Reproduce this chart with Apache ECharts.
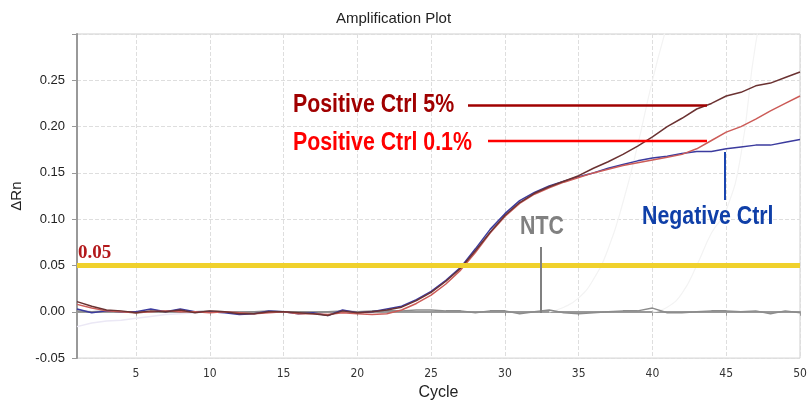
<!DOCTYPE html>
<html>
<head>
<meta charset="utf-8">
<script src="https://cdn.jsdelivr.net/npm/echarts@6/dist/echarts.min.js"></script>
<style>
  html, body { margin: 0; padding: 0; background: #fff; }
  #chart { width: 810px; height: 406px; }
</style>
</head>
<body>
<div id="chart"></div>
<script>
// cycles 1..50 on the x axis
const cycles = []
for (let i = 1; i <= 50; i++) cycles.push(String(i))

const yTicks = [-0.05, 0.30, 0.05] // min, max, step
const threshold = 0.05

// delta Rn per cycle
const pos5 = [0.011, 0.006, 0.002, 0.001, -0.001, 0.001, 0.000, 0.002, -0.001, 0.001,
  0.000, -0.002, -0.002, 0.000, 0.000, -0.001, -0.002, -0.004, 0.001, -0.001,
  0.000, 0.002, 0.005, 0.012, 0.021, 0.033, 0.047, 0.066, 0.086, 0.104,
  0.118, 0.128, 0.135, 0.141, 0.147, 0.155, 0.162, 0.170, 0.179, 0.189,
  0.200, 0.209, 0.219, 0.225, 0.233, 0.237, 0.244, 0.247, 0.253, 0.259]
const pos01 = [0.008, 0.004, 0.001, 0.000, -0.001, 0.000, 0.001, 0.000, 0.000, -0.001,
  0.000, -0.001, -0.002, -0.001, 0.000, -0.002, -0.002, -0.003, -0.001, -0.002,
  -0.003, -0.002, 0.002, 0.009, 0.018, 0.030, 0.045, 0.064, 0.085, 0.103,
  0.117, 0.127, 0.134, 0.140, 0.145, 0.150, 0.154, 0.158, 0.161, 0.164,
  0.167, 0.170, 0.176, 0.185, 0.194, 0.200, 0.208, 0.217, 0.225, 0.233]
const neg = [0.003, -0.001, 0.001, 0.000, 0.000, 0.003, 0.000, 0.003, 0.000, 0.000,
  -0.001, -0.003, -0.002, 0.001, 0.000, -0.002, -0.001, -0.004, 0.002, -0.001,
  0.000, 0.003, 0.006, 0.013, 0.022, 0.034, 0.048, 0.068, 0.089, 0.106,
  0.120, 0.129, 0.136, 0.141, 0.146, 0.150, 0.155, 0.159, 0.163, 0.166,
  0.168, 0.171, 0.173, 0.173, 0.176, 0.178, 0.180, 0.180, 0.183, 0.186]
const ntc = [0.001, 0.000, 0.001, 0.000, -0.001, 0.000, 0.001, 0.000, 0.000, 0.001,
  0.000, -0.001, 0.000, 0.001, 0.000, 0.000, -0.001, 0.000, 0.001, 0.000,
  0.001, 0.001, 0.001, 0.002, 0.002, 0.001, 0.001, -0.001, 0.001, 0.001,
  -0.002, 0.000, 0.002, -0.001, -0.002, -0.001, 0.000, 0.001, 0.001, 0.004,
  -0.001, -0.001, 0.000, 0.001, 0.001, 0.000, 0.001, -0.002, 0.001, -0.001]
// faint background wells
const ghostLow = [-0.016, -0.012, -0.010, -0.009, -0.007, -0.005, -0.003, -0.002, -0.001, 0.000,
  null, null, null, null, null, null, null, null, null, null,
  null, null, null, null, null, null, null, null, null, null,
  null, null, null, null, null, null, null, null, null, null,
  null, null, null, null, null, null, null, null, null, null]
const ghostA = [null, null, null, null, null, null, null, null, null, null,
  null, null, null, null, null, null, null, null, null, null,
  null, null, null, null, null, null, null, null, null, null,
  null, null, 0.000, 0.005, 0.015, 0.035, 0.068, 0.118, 0.180, 0.250,
  0.310, null, null, null, null, null, null, null, null, null]
const ghostB = [null, null, null, null, null, null, null, null, null, null,
  null, null, null, null, null, null, null, null, null, null,
  null, null, null, null, null, null, null, null, null, null,
  null, null, null, null, null, null, null, null, null, 0.000,
  0.005, 0.020, 0.050, 0.085, 0.110, 0.170, 0.290, 0.360, null, null]

const narrow = "'Liberation Sans Narrow', 'DejaVu Sans Condensed', 'Liberation Sans', sans-serif"
const every5 = (i, v) => Number(v) % 5 === 0

// bold condensed callout text (Arial Narrow look, squeezed Liberation Sans)
function callout (text, x, y, color) {
  return {
    type: 'text',
    z: 100,
    x: x,
    y: y,
    scaleX: 0.82,
    style: { text: text, x: 0, y: 0, textVerticalAlign: 'middle', font: 'bold 26px "Liberation Sans", Arial, sans-serif', fill: color }
  }
}
function leader (x1, y1, x2, y2, color, w) {
  return { type: 'line', z: 100, shape: { x1: x1, y1: y1, x2: x2, y2: y2 }, style: { stroke: color, lineWidth: w } }
}

const chart = echarts.init(document.getElementById('chart'))
const option = {
  animation: false,
  title: {
    text: 'Amplification Plot',
    left: 331,
    top: 6,
    textStyle: { fontFamily: 'Liberation Sans', fontWeight: 'normal', fontSize: 15, color: '#222' }
  },
  grid: { left: 77, right: 10, top: 34, bottom: 45, show: true, borderColor: '#cfcfcf', borderWidth: 1 },
  xAxis: {
    type: 'category',
    data: cycles,
    boundaryGap: false,
    name: 'Cycle',
    nameLocation: 'middle',
    nameGap: 24,
    nameTextStyle: { fontFamily: 'Liberation Sans', fontSize: 16, color: '#222' },
    axisLine: { lineStyle: { color: '#999', width: 2 } },
    axisTick: { interval: every5, length: 4, lineStyle: { color: '#999' } },
    axisLabel: { interval: every5, margin: 10, fontFamily: narrow, fontSize: 12, color: '#333' },
    splitLine: { show: true, interval: every5, lineStyle: { color: '#dedede', type: 'dashed' } }
  },
  yAxis: {
    type: 'value',
    min: yTicks[0],
    max: yTicks[1],
    interval: yTicks[2],
    name: 'ΔRn',
    nameLocation: 'middle',
    nameGap: 50,
    nameTextStyle: { fontFamily: 'Liberation Sans', fontSize: 15, color: '#222' },
    axisLine: { show: true, lineStyle: { color: '#999', width: 2 } },
    axisTick: { show: true, length: 5, lineStyle: { color: '#999' } },
    axisLabel: {
      margin: 12,
      fontFamily: 'Liberation Sans',
      fontSize: 13,
      color: '#222',
      formatter: v => (v > 0.29 ? '' : v.toFixed(2))
    },
    splitLine: { lineStyle: { color: '#dedede', type: 'dashed' } }
  },
  series: [
    { name: 'ghostLow', type: 'line', data: ghostLow, symbol: 'none', lineStyle: { color: '#ebe8f5', width: 1.5 } },
    { name: 'ghostA', type: 'line', data: ghostA, symbol: 'none', smooth: true, lineStyle: { color: '#f3f3f3', width: 1.2 } },
    { name: 'ghostB', type: 'line', data: ghostB, symbol: 'none', smooth: true, lineStyle: { color: '#f3f3f3', width: 1.2 } },
    {
      name: 'NTC',
      type: 'line',
      data: ntc,
      symbol: 'none',
      lineStyle: { color: '#8c8c8c', width: 1.5 },
      markLine: {
        silent: true,
        symbol: 'none',
        data: [{ yAxis: threshold }],
        lineStyle: { color: '#f0d12c', width: 5, type: 'solid' },
        label: {
          show: true,
          position: 'insideStartTop',
          distance: [1, 3],
          formatter: '0.05',
          fontFamily: 'Liberation Serif',
          fontWeight: 'bold',
          fontSize: 19,
          color: '#b3191b'
        }
      }
    },
    { name: 'Negative Ctrl', type: 'line', data: neg, symbol: 'none', lineStyle: { color: '#3b3b9e', width: 1.5 } },
    { name: 'Positive Ctrl 0.1%', type: 'line', data: pos01, symbol: 'none', lineStyle: { color: '#cc5c58', width: 1.5 } },
    { name: 'Positive Ctrl 5%', type: 'line', data: pos5, symbol: 'none', lineStyle: { color: '#6b3232', width: 1.5 } }
  ],
  graphic: [
    callout('Positive Ctrl 5%', 293, 105, '#a00000'),
    leader(468, 105.5, 707, 105.5, '#a00000', 2.5),
    callout('Positive Ctrl 0.1%', 293, 143, '#ff0000'),
    leader(488, 141, 707, 141, '#ff0000', 2.5),
    callout('Negative Ctrl', 642, 217, '#0f3fa8'),
    leader(725, 152, 725, 200, '#1a45b0', 2),
    callout('NTC', 520, 227, '#808080'),
    leader(541, 247, 541, 313, '#808080', 2)
  ]
}
chart.setOption(option)
</script>
</body>
</html>
